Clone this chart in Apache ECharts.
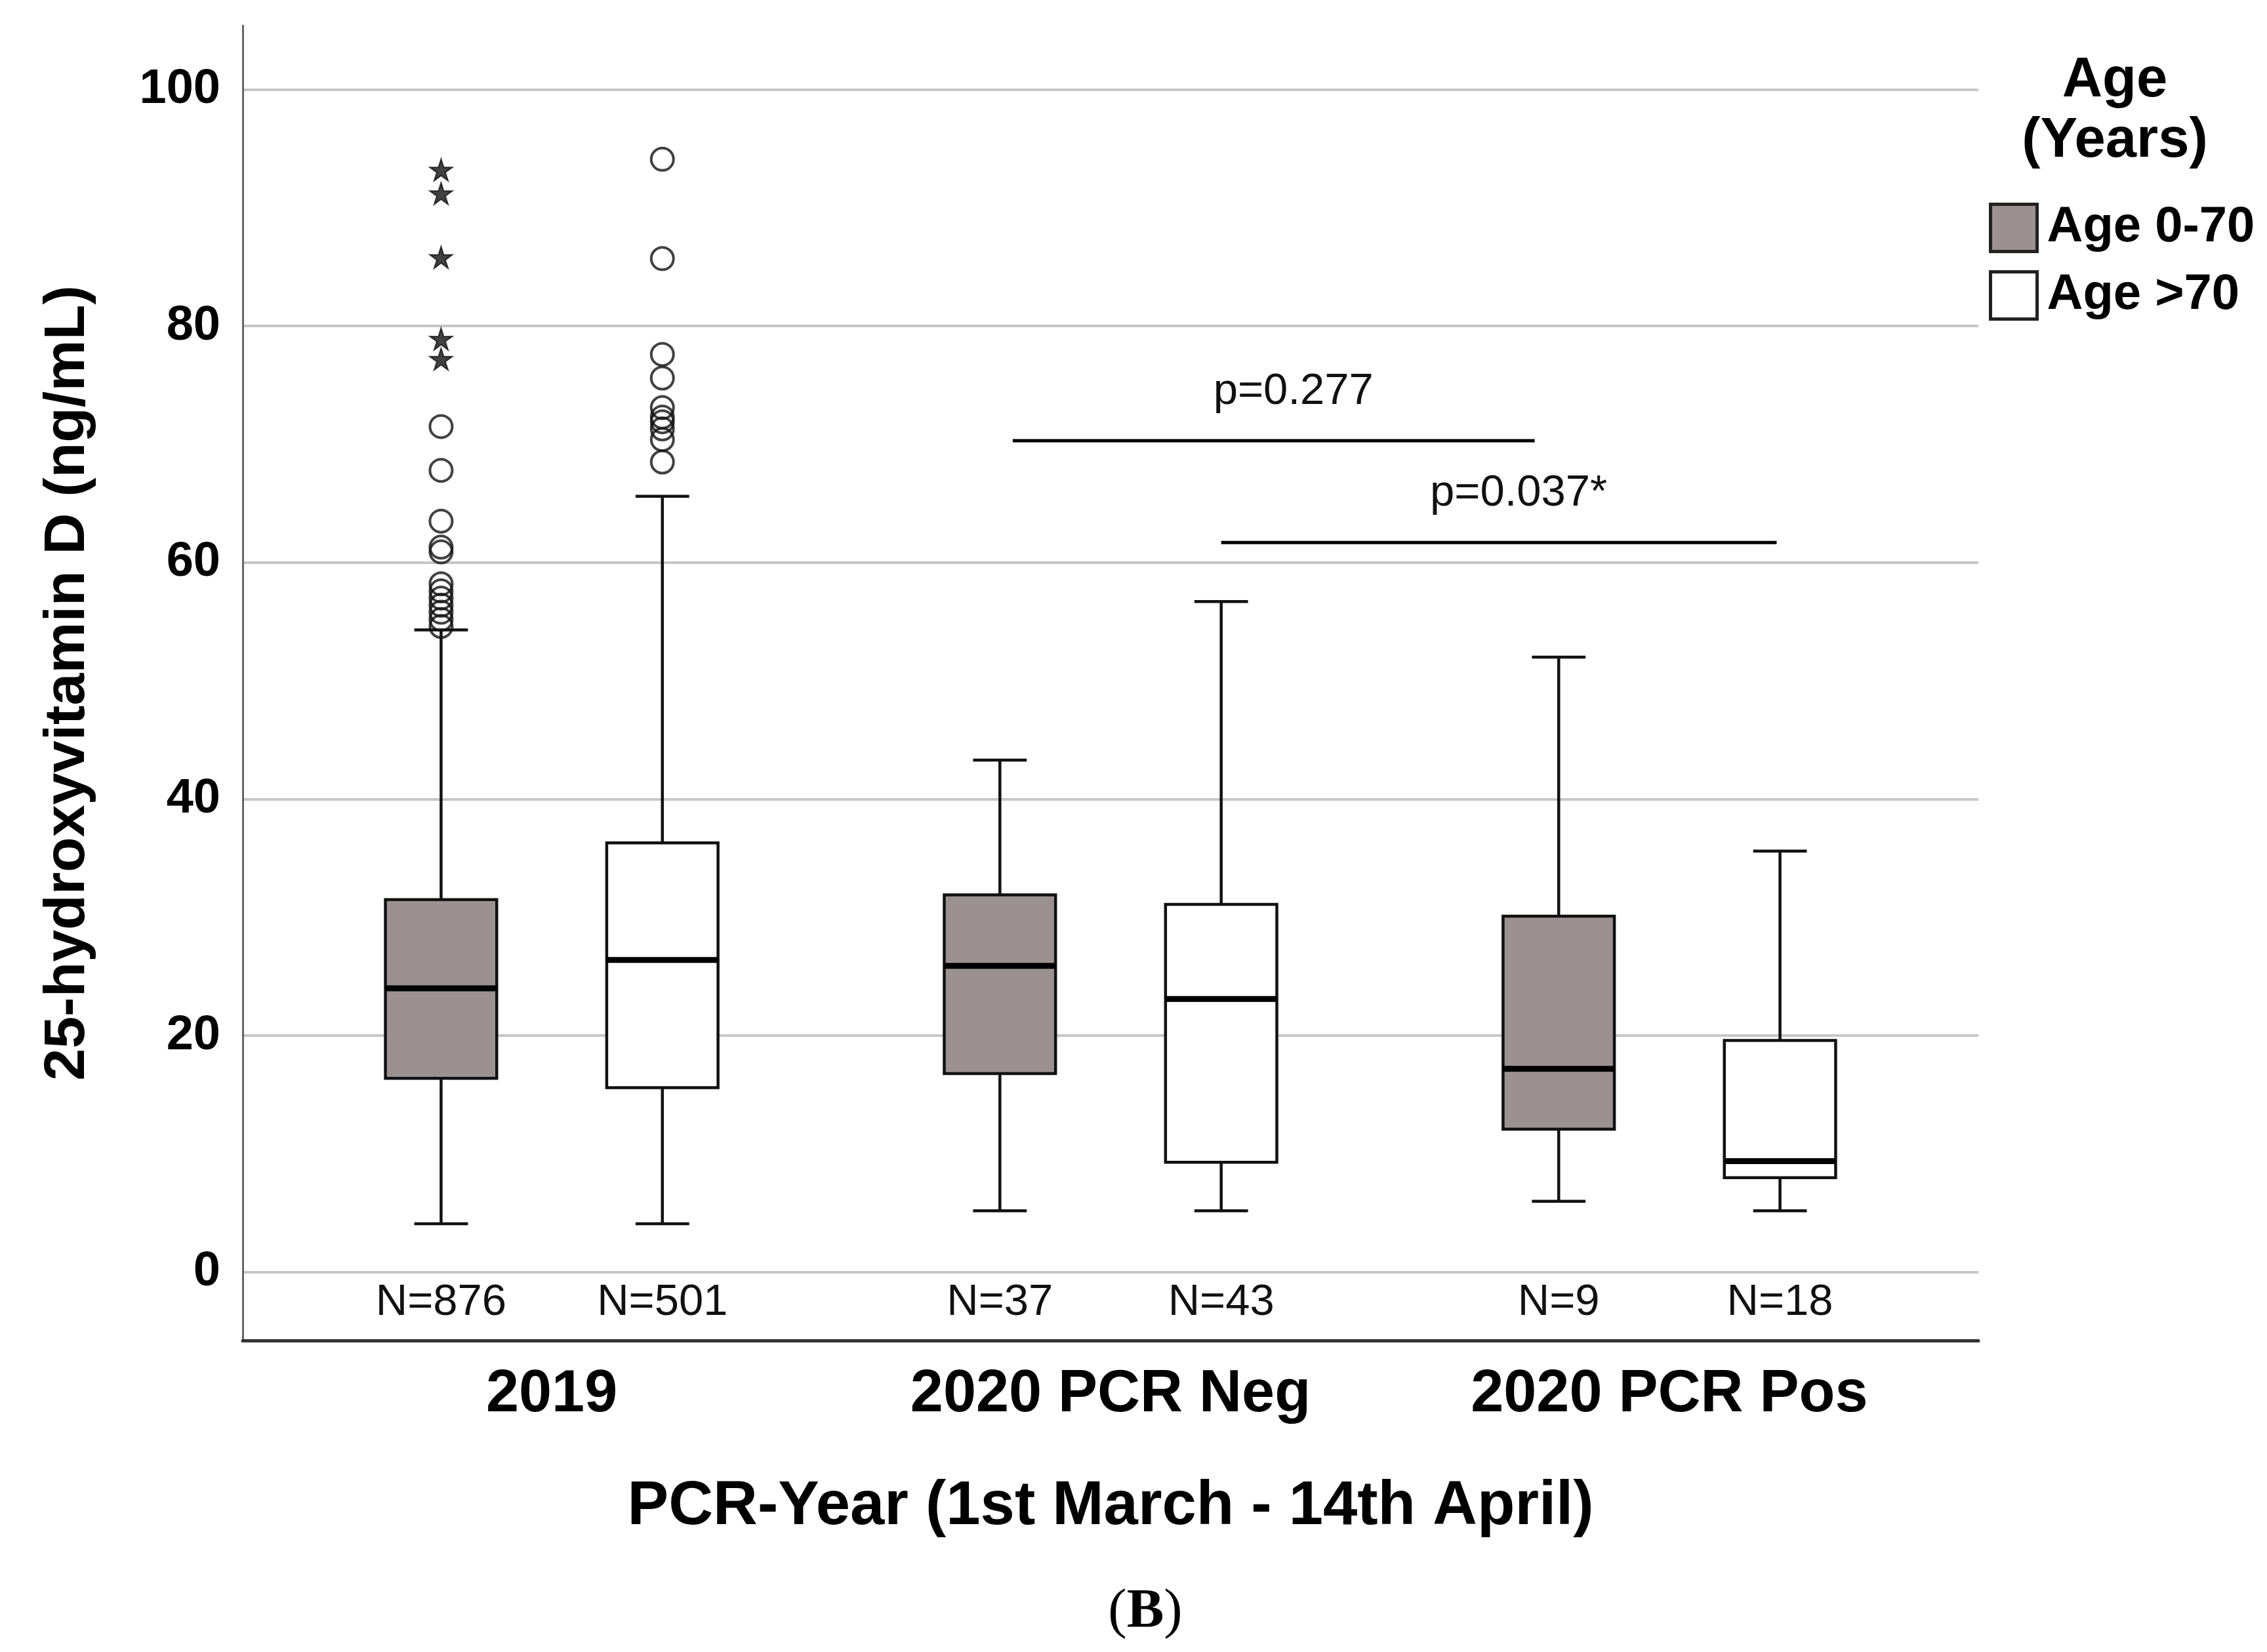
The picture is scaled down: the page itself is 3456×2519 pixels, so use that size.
<!DOCTYPE html>
<html>
<head>
<meta charset="utf-8">
<title>25-hydroxyvitamin D by PCR-Year and Age</title>
<script src="https://cdn.jsdelivr.net/npm/echarts@6.0.0/dist/echarts.min.js"></script>
<style>
    html, body { margin: 0; padding: 0; background: #fff; }
    #chart { width: 3456px; height: 2519px; }
</style>
</head>
<body>
<div id="chart"></div>
<script>
// categories
var groups = ['2019', '2020 PCR Neg', '2020 PCR Pos'];
var ageNames = ['Age 0-70', 'Age >70'];
var yTicks = [0, 20, 40, 60, 80, 100];

// box stats per group: [lower whisker, Q1, median, Q3, upper whisker]
var youngBoxes = [
    [4.1, 16.4, 24.0, 31.5, 54.3],
    [5.2, 16.8, 25.9, 31.9, 43.3],
    [6.0, 12.1, 17.2, 30.1, 52.0]
];
var oldBoxes = [
    [4.1, 15.6, 26.4, 36.3, 65.6],
    [5.2, 9.3, 23.1, 31.1, 56.7],
    [5.2, 8.0, 9.4, 19.6, 35.6]
];
var youngN = [876, 37, 9];
var oldN = [501, 43, 18];

// outliers (2019 only)
var youngOutliers = [71.5, 67.8, 63.5, 61.3, 60.9, 58.2, 57.6, 57.0, 56.4, 55.8, 55.2, 54.6];
var youngExtremes = [93.2, 91.2, 85.8, 78.9, 77.2];
var oldOutliers = [94.1, 85.7, 77.6, 75.6, 73.1, 72.3, 71.9, 71.3, 70.4, 68.5];

// significance bars: [from x, to x, y]
var sigBars = [
    [0.825, 1.759, 70.3],
    [1.198, 2.192, 61.7]
];
var sigLabels = ['p=0.277', 'p=0.037*'];

var FONT = 'Liberation Sans, Arial, sans-serif';
var GREY = '#9b9190';
var OFFSET = 0.198;     // box centre offset from group centre
var BOX_HALF = 0.0996;
var CAP_HALF = 0.048;

function boxData(stats, ns) {
    return stats.map(function (s, i) {
        return [i].concat(s).concat([ns[i]]);
    });
}

function outlierData(vals, gx) {
    return vals.map(function (v) { return [gx, v]; });
}

function makeBoxRender(shift, fill) {
    return function (params, api) {
        var gx = api.value(0) + shift;
        var pLow = api.coord([gx, api.value(1)]);
        var pQ1 = api.coord([gx, api.value(2)]);
        var pMed = api.coord([gx, api.value(3)]);
        var pQ3 = api.coord([gx, api.value(4)]);
        var pHigh = api.coord([gx, api.value(5)]);
        var xl = api.coord([gx - BOX_HALF, 0])[0];
        var xr = api.coord([gx + BOX_HALF, 0])[0];
        var cl = api.coord([gx - CAP_HALF, 0])[0];
        var cr = api.coord([gx + CAP_HALF, 0])[0];
        var cx = pMed[0];
        var lineStyle = { stroke: '#111', lineWidth: 4.5 };
        var bottom = params.coordSys.y + params.coordSys.height;
        return {
            type: 'group',
            children: [
                { type: 'line', shape: { x1: cx, y1: pQ3[1], x2: cx, y2: pHigh[1] }, style: lineStyle },
                { type: 'line', shape: { x1: cx, y1: pQ1[1], x2: cx, y2: pLow[1] }, style: lineStyle },
                { type: 'line', shape: { x1: cl, y1: pHigh[1], x2: cr, y2: pHigh[1] }, style: lineStyle },
                { type: 'line', shape: { x1: cl, y1: pLow[1], x2: cr, y2: pLow[1] }, style: lineStyle },
                { type: 'rect', shape: { x: xl, y: pQ3[1], width: xr - xl, height: pQ1[1] - pQ3[1] },
                  style: { fill: fill, stroke: '#111', lineWidth: 4.5 } },
                { type: 'line', shape: { x1: xl, y1: pMed[1], x2: xr, y2: pMed[1] },
                  style: { stroke: '#000', lineWidth: 9 } },
                { type: 'text', x: cx, y: bottom - 57,
                  style: { text: 'N=' + api.value(6), fontSize: 67, fontFamily: FONT, fill: '#111',
                           align: 'center', verticalAlign: 'middle' } }
            ]
        };
    };
}

function renderSig(params, api) {
    var a = api.coord([api.value(0), api.value(2)]);
    var b = api.coord([api.value(1), api.value(2)]);
    return {
        type: 'group',
        children: [
            { type: 'line', shape: { x1: a[0], y1: a[1], x2: b[0], y2: b[1] },
              style: { stroke: '#000', lineWidth: 5 } },
            { type: 'text', x: (a[0] + b[0]) / 2 + 30, y: a[1] - 75,
              style: { text: sigLabels[params.dataIndex], fontSize: 67, fontFamily: FONT, fill: '#111',
                       align: 'center', verticalAlign: 'middle' } }
        ]
    };
}

var starPath = 'path://M0,-10 L2.2,-3.03 L9.511,-3.09 L3.56,1.16 L5.878,8.09 L0,3.75 L-5.878,8.09 L-3.56,1.16 L-9.511,-3.09 L-2.2,-3.03 Z';

var chart = echarts.init(document.getElementById('chart'));
var option = {
    backgroundColor: '#fff',
    animation: false,
    grid: {
        left: 370, right: 440, top: 39, bottom: 475,
        containLabel: false, outerBoundsMode: 'none'
    },
    legend: {
        orient: 'vertical',
        left: 3027, top: 304,
        itemWidth: 71, itemHeight: 72, itemGap: 26,
        selectedMode: false,
        textStyle: { fontSize: 76, fontWeight: 'bold', fontFamily: FONT, color: '#000',
                     lineHeight: 72, padding: [0, 0, 0, 10] },
        data: [
            { name: ageNames[0], icon: 'rect', itemStyle: { color: GREY, borderColor: '#222', borderWidth: 5 } },
            { name: ageNames[1], icon: 'rect', itemStyle: { color: '#fff', borderColor: '#222', borderWidth: 5 } }
        ]
    },
    graphic: [
        { type: 'text', x: 3224, y: 124,
          style: { text: 'Age', fontSize: 85, fontWeight: 'bold', fontFamily: FONT, fill: '#000',
                   align: 'center', verticalAlign: 'middle' } },
        { type: 'text', x: 3224, y: 216,
          style: { text: '(Years)', fontSize: 85, fontWeight: 'bold', fontFamily: FONT, fill: '#000',
                   align: 'center', verticalAlign: 'middle' } },
        { type: 'text', x: 1746, y: 2459,
          style: { text: '{p|(}{b|B}{p|)}', align: 'center', verticalAlign: 'middle',
                   rich: {
                       p: { fontSize: 85, fontFamily: 'Liberation Serif, Times New Roman, serif', fill: '#000' },
                       b: { fontSize: 85, fontWeight: 'bold', fontFamily: 'Liberation Serif, Times New Roman, serif', fill: '#000' }
                   } } }
    ],
    xAxis: {
        type: 'value',
        min: -0.553,
        max: 2.553,
        name: 'PCR-Year (1st March - 14th April)',
        nameLocation: 'middle',
        nameGap: 207,
        nameTextStyle: { fontSize: 94, fontWeight: 'bold', fontFamily: FONT, color: '#000' },
        axisLine: { show: true, onZero: false, lineStyle: { color: '#333', width: 5 } },
        axisTick: { show: false },
        splitLine: { show: false },
        axisLabel: {
            customValues: [0, 1, 2],
            formatter: function (v) { return groups[Math.round(v)]; },
            fontSize: 90, fontWeight: 'bold', fontFamily: FONT, color: '#000',
            margin: 38
        }
    },
    yAxis: {
        type: 'value',
        min: -5.77,
        max: 105.4,
        name: '25-hydroxyvitamin D (ng/mL)',
        nameLocation: 'middle',
        nameGap: 222,
        nameTextStyle: { fontSize: 88, fontWeight: 'bold', fontFamily: FONT, color: '#000' },
        axisLine: { show: true, onZero: false, lineStyle: { color: '#666', width: 3 } },
        axisTick: { show: false, customValues: yTicks },
        axisLabel: {
            customValues: yTicks,
            fontSize: 74, fontWeight: 'bold', fontFamily: FONT, color: '#000',
            margin: 34
        },
        splitLine: { show: true, lineStyle: { color: '#c6c6c6', width: 4 } }
    },
    series: [
        {
            name: ageNames[0],
            type: 'custom',
            renderItem: makeBoxRender(-OFFSET, GREY),
            itemStyle: { color: GREY },
            encode: { x: 0, y: [1, 2, 3, 4, 5] },
            data: boxData(youngBoxes, youngN),
            z: 3
        },
        {
            name: ageNames[1],
            type: 'custom',
            renderItem: makeBoxRender(OFFSET, '#fff'),
            itemStyle: { color: '#fff' },
            encode: { x: 0, y: [1, 2, 3, 4, 5] },
            data: boxData(oldBoxes, oldN),
            z: 3
        },
        {
            name: 'outliers 0-70',
            type: 'scatter',
            symbol: 'circle',
            symbolSize: 34,
            itemStyle: { color: 'rgba(0,0,0,0)', borderColor: '#111', borderWidth: 4 },
            data: outlierData(youngOutliers, -OFFSET),
            z: 4
        },
        {
            name: 'extremes 0-70',
            type: 'scatter',
            symbol: starPath,
            symbolSize: [34, 33],
            itemStyle: { color: '#111', borderColor: '#111', borderWidth: 2 },
            data: outlierData(youngExtremes, -OFFSET),
            z: 4
        },
        {
            name: 'outliers >70',
            type: 'scatter',
            symbol: 'circle',
            symbolSize: 34,
            itemStyle: { color: 'rgba(0,0,0,0)', borderColor: '#111', borderWidth: 4 },
            data: outlierData(oldOutliers, OFFSET),
            z: 4
        },
        {
            name: 'significance',
            type: 'custom',
            renderItem: renderSig,
            encode: { x: [0, 1], y: 2 },
            data: sigBars,
            z: 5
        }
    ]
};
chart.setOption(option);
</script>
</body>
</html>
